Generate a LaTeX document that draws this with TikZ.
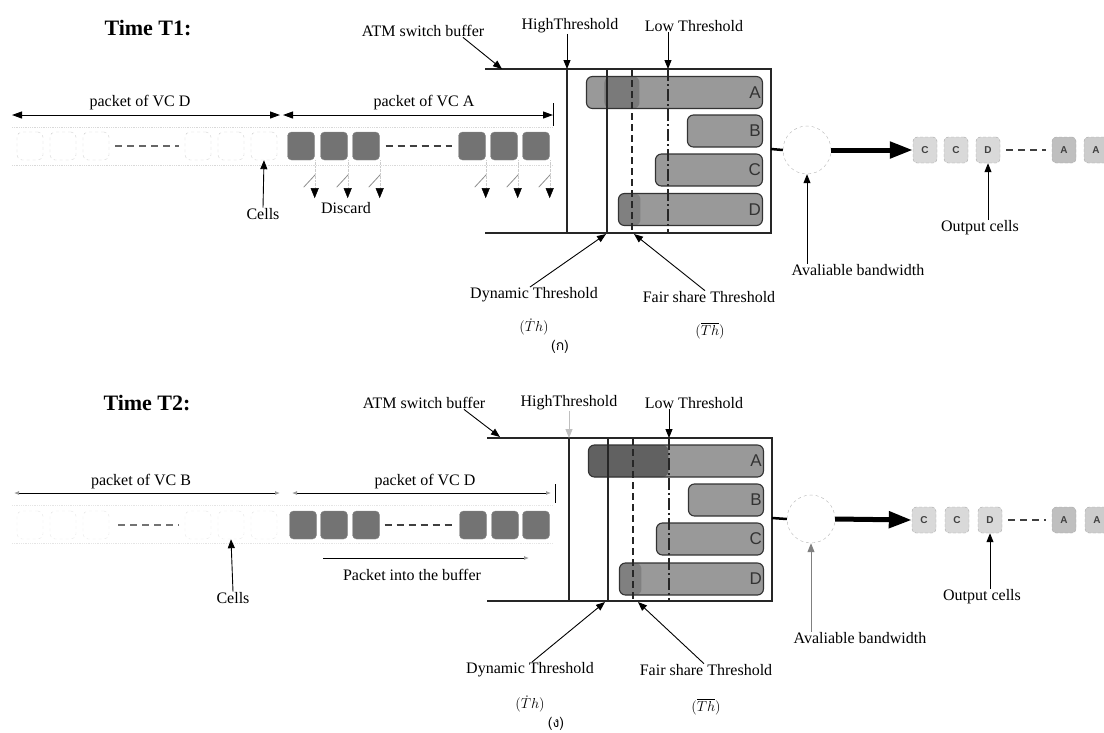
\documentclass[tikz,border=0pt]{standalone}
\usepackage{fontspec}
\setmainfont{Liberation Serif}
\setsansfont{Liberation Sans}
\newfontfamily\thaifont[Script=Thai]{Loma}
\usepackage{amsmath}
\usetikzlibrary{positioning, arrows.meta, calc}

\begin{document}
\begin{tikzpicture}[
    x=1pt, y=-1pt,
    title/.style={font=\fontsize{22}{24}\selectfont\bfseries, inner sep=0pt},
    lbl/.style={font=\fontsize{16}{18}\selectfont, inner sep=0.5pt},
    thv/.style={font=\fontsize{15}{16}\selectfont, inner sep=0pt},
    capt/.style={font=\fontsize{14}{15}\selectfont\thaifont, inner sep=0pt},
    pcell/.style={rectangle, draw=black!45, fill=black!55, rounded corners=4pt, minimum width=27pt, minimum height=28pt, inner sep=0pt},
    fcell/.style={rectangle, draw=black!18, dashed, rounded corners=5pt, minimum width=26pt, minimum height=28pt, inner sep=0pt},
    qbar/.style={rectangle, draw=black!80, fill=black!40, line width=1.1pt, rounded corners=6pt, minimum height=32pt, inner sep=0pt, anchor=east},
    qname/.style={font=\sffamily\fontsize{17}{18}\selectfont, text=black!80, anchor=east, inner sep=2pt},
    ocell/.style={rectangle, draw=black!35, densely dashed, fill=black!15, rounded corners=4pt, minimum width=24pt, minimum height=26pt, inner sep=0pt, font=\sffamily\bfseries\fontsize{10}{11}\selectfont, text=black!75},
    buf/.style={line width=1.1pt, draw=black!85},
    arr/.style={-{Triangle[length=9pt, width=7pt]}, line width=0.9pt},
    parr/.style={{Triangle[length=10pt, width=7pt]}-{Triangle[length=10pt, width=7pt]}, line width=1pt},
    parrb/.style={{Latex[length=5pt, width=4pt, color=black!40]}-{Latex[length=5pt, width=4pt, color=black!40]}, line width=0.8pt},
    darr/.style={-{Triangle[length=10pt, width=8pt, color=black]}, draw=black!20, densely dotted},
    slash/.style={draw=black!45, line width=0.8pt},
    fline/.style={draw=black!15, densely dotted, line width=0.8pt},
    cdash/.style={draw=black!75, dash pattern=on 7pt off 5pt, line width=1.5pt},
    bwidth/.style={circle, draw=black!30, dashed, minimum size=48pt, inner sep=0pt},
    fat/.style={-{Triangle[length=23pt, width=16pt]}, line width=5pt}
]
    \useasboundingbox (0,0) rectangle (1104,732);

    % ---------- Time T1 ----------
    \node[title] (t1) at (148,28) {Time T1:};
    \node[lbl] (atm1) at (423,31) {ATM switch buffer};
    \node[lbl] (high1) at (570,26) {HighThreshold};
    \node[lbl] (low1) at (694,26) {Low Threshold};

    \node[lbl] (vcd1) at (140,103) {packet of VC D};
    \node[lbl] (vca1) at (424,103) {packet of VC A};
    \coordinate (vd1a) at (12,115);
    \coordinate (vd1b) at (280,115);
    \coordinate (va1a) at (283,115);
    \coordinate (va1b) at (553,115);
    \draw[parr] (vd1a) -- (vd1b);
    \draw[parr] (va1a) -- (va1b);
    \draw[line width=1pt] (553,103) -- (553,126);

    \draw[fline] (12,127) -- (553,127);
    \draw[fline] (12,165) -- (553,165);
    \foreach \x [count=\i] in {30,63,96,198,231,264}
        \node[fcell] (fa\i) at (\x,146) {};
    \foreach \x [count=\i] in {301,334,366,472,504,536}
        \node[pcell] (pa\i) at (\x,146) {};
    \draw[cdash, draw=black!60] ([xshift=6pt]fa3.east) -- ([xshift=-6pt]fa4.west);
    \draw[cdash] ([xshift=6pt]pa3.east) -- ([xshift=-6pt]pa4.west);

    \foreach \i in {1,...,6} {
        \draw[slash] ([xshift=-11pt, yshift=-27pt]pa\i.south east) -- ++(12,-13);
        \draw[darr] (pa\i.south east) -- ++(0,38);
    }
    \node[lbl] (cells1) at (263,214) {Cells};
    \node[lbl] (disc1) at (346,208) {Discard};
    \draw[arr] (cells1.north) -- (fa6.south);

    % buffer
    \node[qbar, minimum width=176pt, path picture={\fill[black!52] ([xshift=18pt]path picture bounding box.south west) rectangle ([xshift=53pt]path picture bounding box.north west);}] (qa1) at (763,92.5) {};
    \node[qbar, minimum width=75pt] (qb1) at (763,131) {};
    \node[qbar, minimum width=107pt] (qc1) at (763,170) {};
    \node[qbar, minimum width=144pt, path picture={\fill[black!50] (path picture bounding box.south west) rectangle ([xshift=22pt]path picture bounding box.north west);}] (qd1) at (763,209.5) {};
    \node[qname] (na1) at (qa1.east) {A};
    \node[qname] (nb1) at (qb1.east) {B};
    \node[qname] (nc1) at (qc1.east) {C};
    \node[qname] (nd1) at (qd1.east) {D};

    \draw[buf] (485,69) -- (771,69) -- (771,233) -- (485,233);
    \draw[buf] (607,69) -- (607,233);
    \draw[buf] (567,69) -- (567,233);
    \draw[buf, dash pattern=on 7pt off 4pt] (632,69) -- (632,233);
    \draw[buf, dash pattern=on 12pt off 3pt on 2pt off 3pt] (668,69) -- (668,233);

    \coordinate (ab1) at (502,69);
    \coordinate (hi1) at (567,69);
    \coordinate (lo1) at (668,69);
    \draw[arr] ([xshift=40pt]atm1.south) -- (ab1);
    \draw[arr] (high1.south -| hi1) -- (hi1);
    \draw[arr] (low1.south -| lo1) -- (lo1);

    \node[lbl] (dyn1) at (534,295) {Dynamic Threshold};
    \node[lbl] (fair1) at (709,297) {Fair share Threshold};
    \node[thv] (dth1) at (534,327) {$(\dot{T}h)$};
    \node[thv] (fth1) at (710,331) {$(\overline{Th})$};
    \node[capt] (cap1) at (560,347) {(ก)};
    \coordinate (dt1) at (606,234);
    \coordinate (ft1) at (634,234);
    \draw[arr] ([xshift=-4pt]dyn1.north) -- (dt1);
    \draw[arr] ([xshift=-4pt]fair1.north) -- (ft1);

    % output
    \node[bwidth] (bw1) at (807,150) {};
    \coordinate (bo1) at (771,149);
    \draw[line width=2.5pt] (bo1) -- (bw1.west);
    \node[ocell] (oa1) at (925,150) {C};
    \node[ocell] (ob1) at (956,150) {C};
    \node[ocell] (oc1) at (988,150) {D};
    \node[ocell, fill=black!25] (od1) at (1064,150) {A};
    \node[ocell, fill=black!20] (oe1) at (1096,150) {A};
    \draw[fat] (bw1.east) -- (oa1.west);
    \draw[cdash, line width=1.2pt] ([xshift=6pt]oc1.east) -- ([xshift=-6pt]od1.west);
    \node[lbl] (out1) at (980,228) {Output cells};
    \node[lbl] (avb1) at (858,270) {Avaliable bandwidth};
    \draw[arr] (out1.north -| oc1) -- (oc1.south);
    \draw[arr] (avb1.north -| bw1) -- (bw1.south);

    % ---------- Time T2 ----------
    \node[title] (t2) at (147,403) {Time T2:};
    \node[lbl] (atm2) at (424,403) {ATM switch buffer};
    \node[lbl] (high2) at (569,403) {HighThreshold};
    \node[lbl] (low2) at (694,403) {Low Threshold};

    \node[lbl] (vcb2) at (141,482) {packet of VC B};
    \node[lbl] (vcd2) at (425,482) {packet of VC D};
    \coordinate (vb2a) at (14,493);
    \coordinate (vb2b) at (280,493);
    \coordinate (vd2a) at (292,493);
    \coordinate (vd2b) at (551,493);
    \draw[parrb] (vb2a) -- (vb2b);
    \draw[parrb] (vd2a) -- (vd2b);
    \draw[line width=0.8pt] (555,484) -- (555,503);

    \draw[fline, draw=black!10] (12,505) -- (553,505);
    \draw[fline, draw=black!10] (12,543) -- (553,543);
    \foreach \x [count=\i] in {30,63,96,198,231,264}
        \node[fcell, draw=black!10] (fb\i) at (\x,525) {};
    \foreach \x [count=\i] in {303,334,366,473,505,536}
        \node[pcell] (pb\i) at (\x,525) {};
    \draw[cdash, draw=black!55, line width=1.2pt] ([xshift=9pt]fb3.east) -- ([xshift=-6pt]fb4.west);
    \draw[cdash] ([xshift=5pt]pb3.east) -- ([xshift=-5pt]pb4.west);

    \coordinate (pi2a) at (323,558);
    \coordinate (pi2b) at (529,558);
    \draw[-{Latex[length=5pt, width=4pt, color=black!40]}, line width=0.8pt] (pi2a) -- (pi2b);
    \node[lbl] (pin2) at (412,575) {Packet into the buffer};
    \node[lbl] (cells2) at (233,598) {Cells};
    \draw[arr] (cells2.north) -- (fb5.south);

    % buffer
    \node[qbar, minimum width=175pt, path picture={\fill[black!62] (path picture bounding box.south west) rectangle ([xshift=80pt]path picture bounding box.north west);}] (qa2) at (764,461) {};
    \node[qbar, minimum width=75pt] (qb2) at (764,500) {};
    \node[qbar, minimum width=107pt] (qc2) at (764,539) {};
    \node[qbar, minimum width=144pt, path picture={\fill[black!50] (path picture bounding box.south west) rectangle ([xshift=22pt]path picture bounding box.north west);}] (qd2) at (764,579) {};
    \node[qname] (na2) at (qa2.east) {A};
    \node[qname] (nb2) at (qb2.east) {B};
    \node[qname] (nc2) at (qc2.east) {C};
    \node[qname] (nd2) at (qd2.east) {D};

    \draw[buf] (487,438) -- (772,438) -- (772,601) -- (487,601);
    \draw[buf] (608,438) -- (608,601);
    \draw[buf] (569,438) -- (569,601);
    \draw[buf, dash pattern=on 7pt off 4pt] (633,438) -- (633,601);
    \draw[buf, dash pattern=on 12pt off 3pt on 2pt off 3pt] (669,438) -- (669,601);

    \coordinate (ab2) at (500,437);
    \coordinate (hi2) at (569,438);
    \coordinate (lo2) at (669,438);
    \draw[arr] ([xshift=40pt]atm2.south) -- (ab2);
    \draw[arr, draw=black!25] (high2.south -| hi2) -- (hi2);
    \draw[arr] (low2.south -| lo2) -- (lo2);

    \node[lbl] (dyn2) at (530,670) {Dynamic Threshold};
    \node[lbl] (fair2) at (706,670) {Fair share Threshold};
    \node[thv] (dth2) at (530,704) {$(\dot{T}h)$};
    \node[thv] (fth2) at (706,707) {$(\overline{Th})$};
    \node[capt] (cap2) at (556,724) {(ง)};
    \coordinate (dt2) at (605,602);
    \coordinate (ft2) at (638,602);
    \draw[arr] ([xshift=2pt]dyn2.north) -- (dt2);
    \draw[arr] ([xshift=-2pt]fair2.north) -- (ft2);

    % output
    \node[bwidth] (bw2) at (811,519) {};
    \coordinate (bo2) at (772,518);
    \draw[line width=2.5pt] (bo2) -- (bw2.west);
    \node[ocell] (oa2) at (924,520) {C};
    \node[ocell] (ob2) at (957,520) {C};
    \node[ocell] (oc2) at (990,520) {D};
    \node[ocell, fill=black!25] (od2) at (1064,520) {A};
    \node[ocell, fill=black!20] (oe2) at (1097,520) {A};
    \draw[fat] (bw2.east) -- (oa2.west);
    \draw[cdash, line width=1.2pt] ([xshift=6pt]oc2.east) -- ([xshift=-6pt]od2.west);
    \node[lbl] (out2) at (982,597) {Output cells};
    \node[lbl] (avb2) at (860,638) {Avaliable bandwidth};
    \draw[arr] (out2.north -| oc2) -- (oc2.south);
    \draw[arr, draw=black!50] (avb2.north -| bw2) -- (bw2.south);
\end{tikzpicture}
\end{document}
